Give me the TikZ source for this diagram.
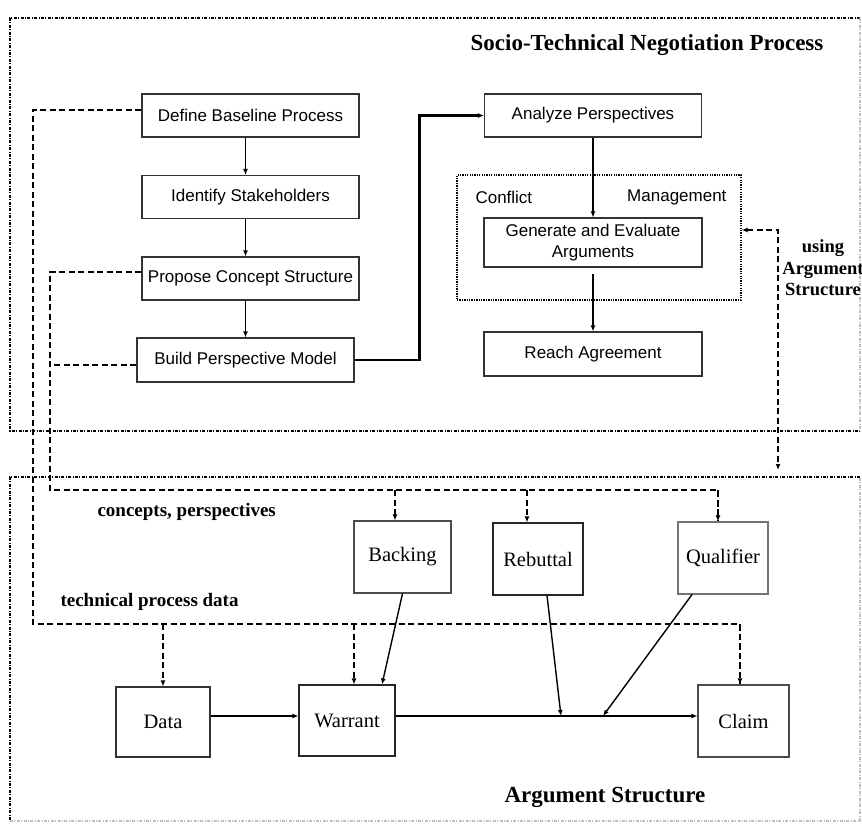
\documentclass[tikz,border=0pt]{standalone}
\usepackage{fontspec}
\setmainfont{Liberation Serif}
\newfontfamily\arialfont{Liberation Sans}
\usetikzlibrary{arrows.meta}

\begin{document}
\begin{tikzpicture}[x=1pt,y=-1pt,
  tip/.style={-{Latex[length=6pt,width=5pt]}},
  procbox/.style={draw=black!80, line width=1.1pt, inner sep=0pt,
    minimum width=217pt, minimum height=43pt, align=center,
    font=\arialfont\fontsize{17}{20.5}\selectfont},
  argbox/.style={draw=black!70, line width=1.1pt, inner sep=0pt,
    minimum width=92pt, minimum height=72pt,
    font=\fontsize{20.5}{24}\selectfont},
  frame/.style={line width=1.3pt, dash pattern=on 3pt off 1.4pt on 1pt off 1.4pt},
  fadeframe/.style={frame, draw=black!25},
  cmbox/.style={draw, line width=1.3pt, dash pattern=on 1.3pt off 1.1pt,
    minimum width=284pt, minimum height=125pt, inner sep=0pt},
  conn/.style={line width=1.4pt, tip},
  dconn/.style={line width=2.4pt, dash pattern=on 6pt off 3.5pt},
  flow/.style={line width=2pt, tip},
  label/.style={font=\bfseries\fontsize{19}{22}\selectfont, anchor=west},
  heading/.style={font=\bfseries\fontsize{23}{26}\selectfont}]

\useasboundingbox (0,0) rectangle (862,825);
\clip (0,0) rectangle (862,825);

% process and argument frames
\draw[frame] (860,18) -- (10,18) -- (10,431) -- (860,431);
\draw[fadeframe] (860,18) -- (860,431);
\draw[frame] (860,477) -- (10,477) -- (10,821);
\draw[fadeframe] (10,821) -- (860,821) -- (860,477);

\node[heading] (title) at (647,45) {Socio-Technical Negotiation Process};
\node[heading] (astitle) at (605,797) {Argument Structure};

% negotiation steps
\node[procbox] (def)   at (250.5,115.5) {Define Baseline Process};
\node[procbox] (ids)   at (250.5,197)   {Identify Stakeholders};
\node[procbox] (prop)  at (250.5,278.5) {Propose Concept Structure};
\node[procbox, minimum height=44pt] (build) at (245.5,360) {Build Perspective Model};

\node[procbox] (ana)   at (593,115.5) {Analyze Perspectives};
\node[cmbox]   (cm)    at (599,237.5) {};
\node[anchor=west, font=\arialfont\fontsize{17}{20}\selectfont] (cml) at (472,197) {Conflict};
\node[anchor=east, font=\arialfont\fontsize{17}{20}\selectfont] (cmr) at (730,197) {Management};
\node[procbox, minimum width=218pt, minimum height=49pt] (gen) at (593,242.5)
  {Generate and Evaluate\\Arguments};
\node[procbox, minimum width=218pt, minimum height=44pt] (reach) at (593,354) {Reach Agreement};

\draw[conn] (def.south -| build.north) -- (build.north |- ids.north);
\draw[conn] (ids.south -| build.north) -- (build.north |- prop.north);
\draw[conn] (prop.south -| build.north) -- (build.north);
\draw[flow, line width=2.6pt] (build.east) -- ++(65,0) |- (ana.west);
\draw[conn] (ana.south) -- (gen.north);
\draw[conn] ([yshift=-6pt]gen.south) -- (reach.north);

% link between the two frames
\node[font=\bfseries\fontsize{18.5}{21.5}\selectfont, align=center] (using) at (823,268)
  {using\\Argument\\Structure};
\coordinate (lk) at (778,230);
\draw[dconn, {Latex[length=6pt,width=5pt]}-{Latex[length=6pt,width=5pt]}]
  (cm.east |- lk) -- (lk) -- (778,470);

% argument elements
\node[argbox, minimum width=97pt] (backing) at (402.5,557) {Backing};
\node[argbox, minimum width=90pt, draw=black!85] (rebuttal) at (538,559) {Rebuttal};
\node[argbox, minimum width=90pt, draw=black!55] (qual) at (723,558) {Qualifier};
\node[argbox, minimum width=94pt, minimum height=70pt, draw=black!80] (data) at (163,722) {Data};
\node[argbox, minimum width=96pt, minimum height=71pt, draw=black!85] (warrant) at (347,720.5) {Warrant};
\node[argbox, minimum width=91pt, draw=black!70] (claim) at (743.5,721) {Claim};

\node[label] (cplabel) at (94,512) {concepts, perspectives};
\node[label] (tplabel) at (57,602) {technical process data};

% concepts and perspectives feed
\coordinate (cp) at (50,490);
\draw[dconn] ([yshift=6.5pt]prop.west) -| (cp) -| ([xshift=-5pt]qual.north);
\draw[dconn] ([yshift=-5pt]build.west) -- ++(-87,0);
\draw[dconn, tip] ([xshift=-5pt]qual.north |- cp) -- ([xshift=-5pt]qual.north);
\draw[dconn, tip] ([xshift=-7.5pt]backing.north |- cp) -- ([xshift=-7.5pt]backing.north);
\draw[dconn, tip] ([xshift=-11pt]rebuttal.north |- cp) -- ([xshift=-11pt]rebuttal.north);

% technical process data feed
\coordinate (tp) at (33,624);
\draw[dconn] ([yshift=5.5pt]def.west) -| (tp) -| ([xshift=-3.5pt]claim.north);
\draw[dconn, tip] ([xshift=-3.5pt]claim.north |- tp) -- ([xshift=-3.5pt]claim.north);
\draw[dconn, tip] (data.north |- tp) -- (data.north);
\draw[dconn, tip] ([xshift=7pt]warrant.north |- tp) -- ([xshift=7pt]warrant.north);

% argument flow
\coordinate (rb) at (561,716);
\coordinate (ql) at (603,716);
\draw[flow] ([yshift=6pt]data.east) -- ([yshift=6pt]data.east -| warrant.west);
\draw[flow] ([yshift=4.5pt]warrant.east) -- ([yshift=5pt]claim.west);
\draw[conn] (backing.south) -- ([xshift=35pt]warrant.north);
\draw[conn] ([xshift=9pt]rebuttal.south) -- (rb);
\draw[conn] ([xshift=-31pt]qual.south) -- (ql);

\end{tikzpicture}
\end{document}
